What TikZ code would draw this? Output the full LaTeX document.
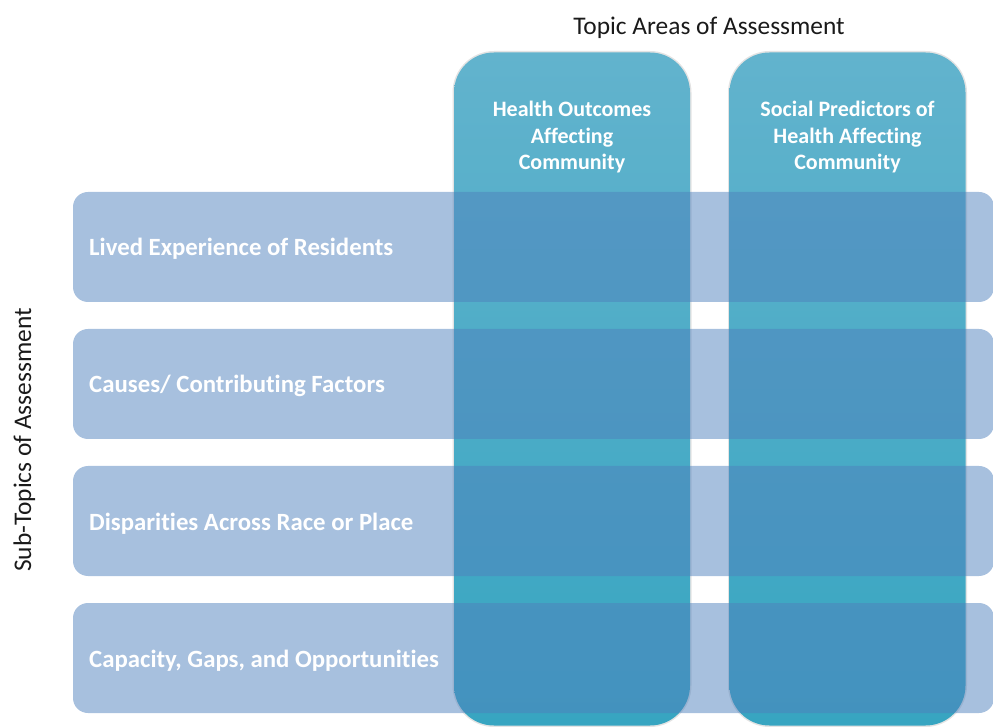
\documentclass[tikz,border=0pt]{standalone}
\usepackage{fontspec}
\setmainfont{Carlito}[Ligatures={NoCommon}]
\definecolor{rowblue}{HTML}{4F81BD}
\definecolor{coltop}{HTML}{62B3CD}
\definecolor{colbot}{HTML}{37A5C1}
\definecolor{headgray}{HTML}{1A1A1A}
\begin{document}
\begin{tikzpicture}[x=1pt,y=1pt,
  colbox/.style={rounded corners=40pt, top color=coltop, bottom color=colbot, draw=none,
    minimum width=236pt, minimum height=673pt, inner sep=0pt},
  colshade/.style={rounded corners=41.5pt, fill=black, fill opacity=0.11, draw=none,
    minimum width=239pt, minimum height=676pt, inner sep=0pt},
  rowbox/.style={rounded corners=15pt, fill=rowblue, fill opacity=0.5, draw=none,
    minimum width=921pt, minimum height=110pt, inner sep=0pt},
  rowtext/.style={anchor=base west, text=white, font=\bfseries\fontsize{24.8}{29}\selectfont, inner sep=0pt},
  coltext/.style={anchor=base, align=center, text=white, font=\bfseries\fontsize{22}{26.5}\selectfont, inner sep=0pt},
  heading/.style={anchor=base, text=headgray, font=\fontsize{25.4}{30}\selectfont, inner sep=0pt}]
\useasboundingbox (0,0) rectangle (993,726);
% column shadows and columns
\node[colshade] (s1) at (572,337) {};
\node[colshade] (s2) at (847.5,337) {};
\node[colbox] (col1) at (572,337) {};
\node[colbox] (col2) at (847.5,337) {};
% rows (translucent, over the columns)
\node[rowbox] (r1) at (533.5,479) {};
\node[rowbox] (r2) at (533.5,342) {};
\node[rowbox] (r3) at (533.5,205) {};
\node[rowbox] (r4) at (533.5,68) {};
% row labels
\node[rowtext] (t1) at (89,470) {Lived Experience of Residents};
\node[rowtext] (t2) at (89,333) {Causes/ Contributing Factors};
\node[rowtext] (t3) at (89,196) {Disparities Across Race or Place};
\node[rowtext] (t4) at (89,59) {Capacity, Gaps, and Opportunities};
% column labels
\node[coltext] (h1) at (572,556) {Health Outcomes\\Affecting\\Community};
\node[coltext] (h2) at (847.5,556) {Social Predictors of\\Health Affecting\\Community};
% axis headings
\node[heading] (top) at (709,691) {Topic Areas of Assessment};
\node[heading, rotate=90] (side) at (31,286) {Sub-Topics of Assessment};
\end{tikzpicture}
\end{document}
